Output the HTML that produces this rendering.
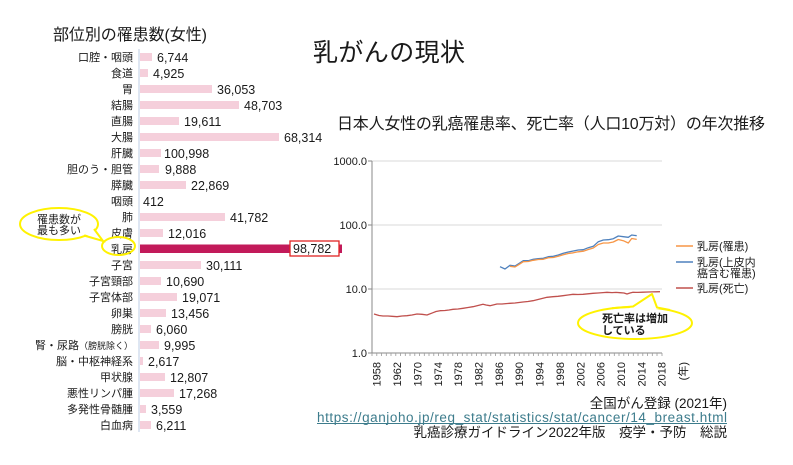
<!DOCTYPE html>
<html><head><meta charset="utf-8">
<style>
html,body{margin:0;padding:0;background:#fff;}
svg{display:block;}
text{font-family:"Liberation Sans","Noto Sans CJK JP",sans-serif;fill:#1a1a1a;}
</style></head>
<body>
<svg width="793" height="465" viewBox="0 0 793 465" xmlns="http://www.w3.org/2000/svg">
<rect width="793" height="465" fill="#fff"/>

<!-- Main title -->
<text x="313" y="61" font-size="25" textLength="152">乳がんの現状</text>

<!-- Left chart title -->
<text x="53" y="40" font-size="16" textLength="154">部位別の罹患数(女性)</text>

<!-- Left axis -->
<line x1="139" y1="49" x2="139" y2="432" stroke="#c9d6ea" stroke-width="1.2"/>

<g font-size="11" text-anchor="end">
<text x="133" y="61">口腔・咽頭</text>
<text x="133" y="77">食道</text>
<text x="133" y="93">胃</text>
<text x="133" y="109">結腸</text>
<text x="133" y="125">直腸</text>
<text x="133" y="141">大腸</text>
<text x="133" y="157">肝臓</text>
<text x="133" y="173">胆のう・胆管</text>
<text x="133" y="189">膵臓</text>
<text x="133" y="205">咽頭</text>
<text x="133" y="221">肺</text>
<text x="133" y="237">皮膚</text>
<text x="133" y="253">乳房</text>
<text x="133" y="269">子宮</text>
<text x="133" y="285">子宮頸部</text>
<text x="133" y="301">子宮体部</text>
<text x="133" y="317">卵巣</text>
<text x="133" y="333">膀胱</text>
<text x="133" y="349">腎・尿路<tspan font-size="9">（膀胱除く）</tspan></text>
<text x="133" y="365">脳・中枢神経系</text>
<text x="133" y="381">甲状腺</text>
<text x="133" y="397">悪性リンパ腫</text>
<text x="133" y="413">多発性骨髄腫</text>
<text x="133" y="429">白血病</text>
</g>

<g fill="#f5cfdb">
<rect x="140" y="53" width="12" height="8"/>
<rect x="140" y="69" width="8" height="8"/>
<rect x="140" y="85" width="72" height="8"/>
<rect x="140" y="101" width="99" height="8"/>
<rect x="140" y="117" width="39" height="8"/>
<rect x="140" y="133" width="139" height="8"/>
<rect x="140" y="149" width="21" height="8"/>
<rect x="140" y="165" width="19" height="8"/>
<rect x="140" y="181" width="46" height="8"/>
<rect x="140" y="213" width="85" height="8"/>
<rect x="140" y="229" width="23" height="8"/>
<rect x="140" y="261" width="61" height="8"/>
<rect x="140" y="277" width="21" height="8"/>
<rect x="140" y="293" width="37" height="8"/>
<rect x="140" y="309" width="26" height="8"/>
<rect x="140" y="325" width="11" height="8"/>
<rect x="140" y="341" width="19" height="8"/>
<rect x="140" y="357" width="3" height="8"/>
<rect x="140" y="373" width="25" height="8"/>
<rect x="140" y="389" width="34" height="8"/>
<rect x="140" y="405" width="6" height="8"/>
<rect x="140" y="421" width="11" height="8"/>
</g>
<rect x="140" y="244.5" width="202" height="8.5" fill="#c21a5a"/>

<g font-size="12.5">
<text x="157" y="62">6,744</text>
<text x="153" y="78">4,925</text>
<text x="217" y="94">36,053</text>
<text x="244" y="110">48,703</text>
<text x="184" y="126">19,611</text>
<text x="284" y="142">68,314</text>
<text x="164" y="158">100,998</text>
<text x="165" y="174">9,888</text>
<text x="191" y="190">22,869</text>
<text x="143" y="206">412</text>
<text x="230" y="222">41,782</text>
<text x="168" y="238">12,016</text>
<text x="206" y="270">30,111</text>
<text x="166" y="286">10,690</text>
<text x="182" y="302">19,071</text>
<text x="171" y="318">13,456</text>
<text x="156" y="334">6,060</text>
<text x="164" y="350">9,995</text>
<text x="148" y="366">2,617</text>
<text x="170" y="382">12,807</text>
<text x="179" y="398">17,268</text>
<text x="151" y="414">3,559</text>
<text x="156" y="430">6,211</text>
</g>
<rect x="290" y="241" width="49" height="15" fill="#fff" stroke="#e02424" stroke-width="1.3"/>
<text x="293" y="253" font-size="12.5">98,782</text>

<!-- Left callout -->
<ellipse cx="118.5" cy="246" rx="16.5" ry="9" fill="none" stroke="#fff200" stroke-width="2"/>
<ellipse cx="59" cy="224" rx="39" ry="16" fill="#fff" stroke="#fff200" stroke-width="2"/>
<polygon points="84,234 93,229 103,241" fill="#fff"/>
<polyline points="84,235.5 103,241 94,229" fill="none" stroke="#fff200" stroke-width="2"/>
<text x="37" y="223" font-size="11">罹患数が</text>
<text x="37" y="234" font-size="11">最も多い</text>

<!-- Right chart subtitle -->
<text x="337" y="129" font-size="16" textLength="428">日本人女性の乳癌罹患率、死亡率（人口10万対）の年次推移</text>

<!-- Gridlines -->
<g stroke="#d9d9d9" stroke-width="1">
<line x1="372" y1="161" x2="662" y2="161"/>
<line x1="372" y1="225" x2="662" y2="225"/>
<line x1="372" y1="289" x2="662" y2="289"/>
</g>
<line x1="372" y1="161" x2="372" y2="353" stroke="#8a8a8a" stroke-width="1"/>
<line x1="372" y1="353" x2="662" y2="353" stroke="#8a8a8a" stroke-width="1"/>
<g stroke="#8a8a8a" stroke-width="1">
<line x1="368" y1="161" x2="372" y2="161"/>
<line x1="368" y1="225" x2="372" y2="225"/>
<line x1="368" y1="289" x2="372" y2="289"/>
<line x1="368" y1="353" x2="372" y2="353"/>
</g>
<g id="ticks" stroke="#9a9a9a" stroke-width="0.8">
<line x1="372.0" y1="353" x2="372.0" y2="356"/><line x1="376.8" y1="353" x2="376.8" y2="356"/><line x1="381.5" y1="353" x2="381.5" y2="356"/><line x1="386.3" y1="353" x2="386.3" y2="356"/><line x1="391.0" y1="353" x2="391.0" y2="356"/><line x1="395.8" y1="353" x2="395.8" y2="356"/><line x1="400.5" y1="353" x2="400.5" y2="356"/><line x1="405.3" y1="353" x2="405.3" y2="356"/><line x1="410.0" y1="353" x2="410.0" y2="356"/><line x1="414.8" y1="353" x2="414.8" y2="356"/><line x1="419.5" y1="353" x2="419.5" y2="356"/><line x1="424.3" y1="353" x2="424.3" y2="356"/><line x1="429.0" y1="353" x2="429.0" y2="356"/><line x1="433.8" y1="353" x2="433.8" y2="356"/><line x1="438.5" y1="353" x2="438.5" y2="356"/><line x1="443.3" y1="353" x2="443.3" y2="356"/><line x1="448.0" y1="353" x2="448.0" y2="356"/><line x1="452.8" y1="353" x2="452.8" y2="356"/><line x1="457.5" y1="353" x2="457.5" y2="356"/><line x1="462.3" y1="353" x2="462.3" y2="356"/><line x1="467.0" y1="353" x2="467.0" y2="356"/><line x1="471.8" y1="353" x2="471.8" y2="356"/><line x1="476.5" y1="353" x2="476.5" y2="356"/><line x1="481.3" y1="353" x2="481.3" y2="356"/><line x1="486.0" y1="353" x2="486.0" y2="356"/><line x1="490.8" y1="353" x2="490.8" y2="356"/><line x1="495.5" y1="353" x2="495.5" y2="356"/><line x1="500.3" y1="353" x2="500.3" y2="356"/><line x1="505.0" y1="353" x2="505.0" y2="356"/><line x1="509.8" y1="353" x2="509.8" y2="356"/><line x1="514.5" y1="353" x2="514.5" y2="356"/><line x1="519.3" y1="353" x2="519.3" y2="356"/><line x1="524.0" y1="353" x2="524.0" y2="356"/><line x1="528.8" y1="353" x2="528.8" y2="356"/><line x1="533.5" y1="353" x2="533.5" y2="356"/><line x1="538.3" y1="353" x2="538.3" y2="356"/><line x1="543.0" y1="353" x2="543.0" y2="356"/><line x1="547.8" y1="353" x2="547.8" y2="356"/><line x1="552.5" y1="353" x2="552.5" y2="356"/><line x1="557.3" y1="353" x2="557.3" y2="356"/><line x1="562.0" y1="353" x2="562.0" y2="356"/><line x1="566.8" y1="353" x2="566.8" y2="356"/><line x1="571.5" y1="353" x2="571.5" y2="356"/><line x1="576.3" y1="353" x2="576.3" y2="356"/><line x1="581.0" y1="353" x2="581.0" y2="356"/><line x1="585.8" y1="353" x2="585.8" y2="356"/><line x1="590.5" y1="353" x2="590.5" y2="356"/><line x1="595.3" y1="353" x2="595.3" y2="356"/><line x1="600.0" y1="353" x2="600.0" y2="356"/><line x1="604.8" y1="353" x2="604.8" y2="356"/><line x1="609.5" y1="353" x2="609.5" y2="356"/><line x1="614.3" y1="353" x2="614.3" y2="356"/><line x1="619.0" y1="353" x2="619.0" y2="356"/><line x1="623.8" y1="353" x2="623.8" y2="356"/><line x1="628.5" y1="353" x2="628.5" y2="356"/><line x1="633.3" y1="353" x2="633.3" y2="356"/><line x1="638.0" y1="353" x2="638.0" y2="356"/><line x1="642.8" y1="353" x2="642.8" y2="356"/><line x1="647.5" y1="353" x2="647.5" y2="356"/><line x1="652.3" y1="353" x2="652.3" y2="356"/><line x1="657.0" y1="353" x2="657.0" y2="356"/><line x1="662.0" y1="353" x2="662.0" y2="356"/>
</g>

<g font-size="11" text-anchor="end">
<text x="367" y="165">1000.0</text>
<text x="367" y="229">100.0</text>
<text x="367" y="293">10.0</text>
<text x="367" y="357">1.0</text>
</g>

<g font-size="11" text-anchor="end">
<text transform="translate(380.7,362) rotate(-90)">1958</text>
<text transform="translate(401.1,362) rotate(-90)">1962</text>
<text transform="translate(421.4,362) rotate(-90)">1970</text>
<text transform="translate(441.8,362) rotate(-90)">1974</text>
<text transform="translate(462.1,362) rotate(-90)">1978</text>
<text transform="translate(482.5,362) rotate(-90)">1982</text>
<text transform="translate(502.9,362) rotate(-90)">1986</text>
<text transform="translate(523.2,362) rotate(-90)">1990</text>
<text transform="translate(543.6,362) rotate(-90)">1994</text>
<text transform="translate(563.9,362) rotate(-90)">1998</text>
<text transform="translate(584.3,362) rotate(-90)">2002</text>
<text transform="translate(604.7,362) rotate(-90)">2006</text>
<text transform="translate(625.0,362) rotate(-90)">2010</text>
<text transform="translate(645.4,362) rotate(-90)">2014</text>
<text transform="translate(665.7,362) rotate(-90)">2018</text>
<text transform="translate(687,362) rotate(-90)">(年)</text>
</g>

<!-- Death (red) -->
<polyline fill="none" stroke="#c0504d" stroke-width="1.3" stroke-linejoin="round" points="374,314 379,315.5 383,316 388,316 392,316.3 397,316.7 402,316 407,315.7 412,315 417,314 422,314.3 427,315 433,312.7 436,311.5 440,310.7 445,310.5 449,310 453,309.3 458,309 463,308.3 468,307.5 473,306.7 478,305.5 483,304.3 486,305 490,305.7 493,305 497,304 502,304 506,303.6 510,303.3 515,303 519,302.5 523,302 528,301.5 533,300.7 538,299.5 542,298.5 547,297.3 553,296.7 558,296.3 563,295.7 568,295 573,294.3 578,294.5 583,294.3 588,293.8 593,293.3 598,293 603,292.6 607,292.3 612,292.6 616,292.4 620,292.7 624,293 627,294 630,293 633,292.3 638,292.4 643,292.2 648,292 652,291.9 656,291.8 660,291.7"/>

<!-- Incidence in situ (blue) -->
<polyline fill="none" stroke="#4f81bd" stroke-width="1.3" stroke-linejoin="round" points="500,266.7 505,269 510,265.3 515,266 519.3,263.3 523.3,260.7 528.3,260.7 533.3,259.3 538.3,258.7 543.3,258.3 548.3,256.7 553.3,256.3 558.3,255 563.3,253.3 568.3,252 573.3,251 578.3,250 583.3,249.7 588.3,247.7 593.3,246.3 598.3,241.7 603.3,240 608.3,239.7 613.3,238.7 618.3,236 623.3,236.7 628.3,237.3 631.7,235 636.7,235.7"/>

<!-- Incidence (orange) -->
<polyline fill="none" stroke="#f79646" stroke-width="1.3" stroke-linejoin="round" points="510,266.3 515,267 519.3,264.3 523.3,261.7 528.3,261.5 533.3,260.3 538.3,259.5 543.3,259.3 548.3,257.7 553.3,257.5 558.3,256.3 563.3,254.8 568.3,253.5 573.3,252.8 578.3,251.8 583.3,251.2 588.3,249.5 593.3,248 598.3,244.5 603.3,243 608.3,243 613.3,242 618.3,239.5 623.3,240.7 628.3,243 631.7,238.5 636.7,239.4"/>

<!-- Legend -->
<line x1="676" y1="246" x2="693" y2="246" stroke="#f79646" stroke-width="1.5"/>
<text x="697" y="250" font-size="11">乳房(罹患)</text>
<line x1="676" y1="262" x2="693" y2="262" stroke="#4f81bd" stroke-width="1.5"/>
<text x="697" y="266" font-size="11">乳房(上皮内</text>
<text x="697" y="277" font-size="11">癌含む罹患)</text>
<line x1="676" y1="288" x2="693" y2="288" stroke="#c0504d" stroke-width="1.5"/>
<text x="697" y="292" font-size="11">乳房(死亡)</text>

<!-- Right callout -->
<ellipse cx="635" cy="323" rx="57" ry="16" fill="#fff" stroke="#fff200" stroke-width="2"/>
<polygon points="628,309 652,294 660,309" fill="#fff"/>
<polyline points="612,308.2 633,306.5 652,294 657,307.5 670,310" fill="none" stroke="#fff200" stroke-width="2" stroke-linejoin="round"/>
<text x="602" y="322" font-size="11" font-weight="bold">死亡率は増加</text>
<text x="602" y="334" font-size="11" font-weight="bold">している</text>

<!-- Source text -->
<text x="727" y="408" font-size="13.5" text-anchor="end">全国がん登録 (2021年)</text>
<text x="317" y="422" font-size="13.5" fill="#3d7c8c" style="fill:#3d7c8c" textLength="410">https://ganjoho.jp/reg_stat/statistics/stat/cancer/14_breast.html</text>
<line x1="317" y1="423.5" x2="727" y2="423.5" stroke="#3d7c8c" stroke-width="1"/>
<text x="727" y="437" font-size="13.5" text-anchor="end">乳癌診療ガイドライン2022年版　疫学・予防　総説</text>
</svg>
</body></html>
